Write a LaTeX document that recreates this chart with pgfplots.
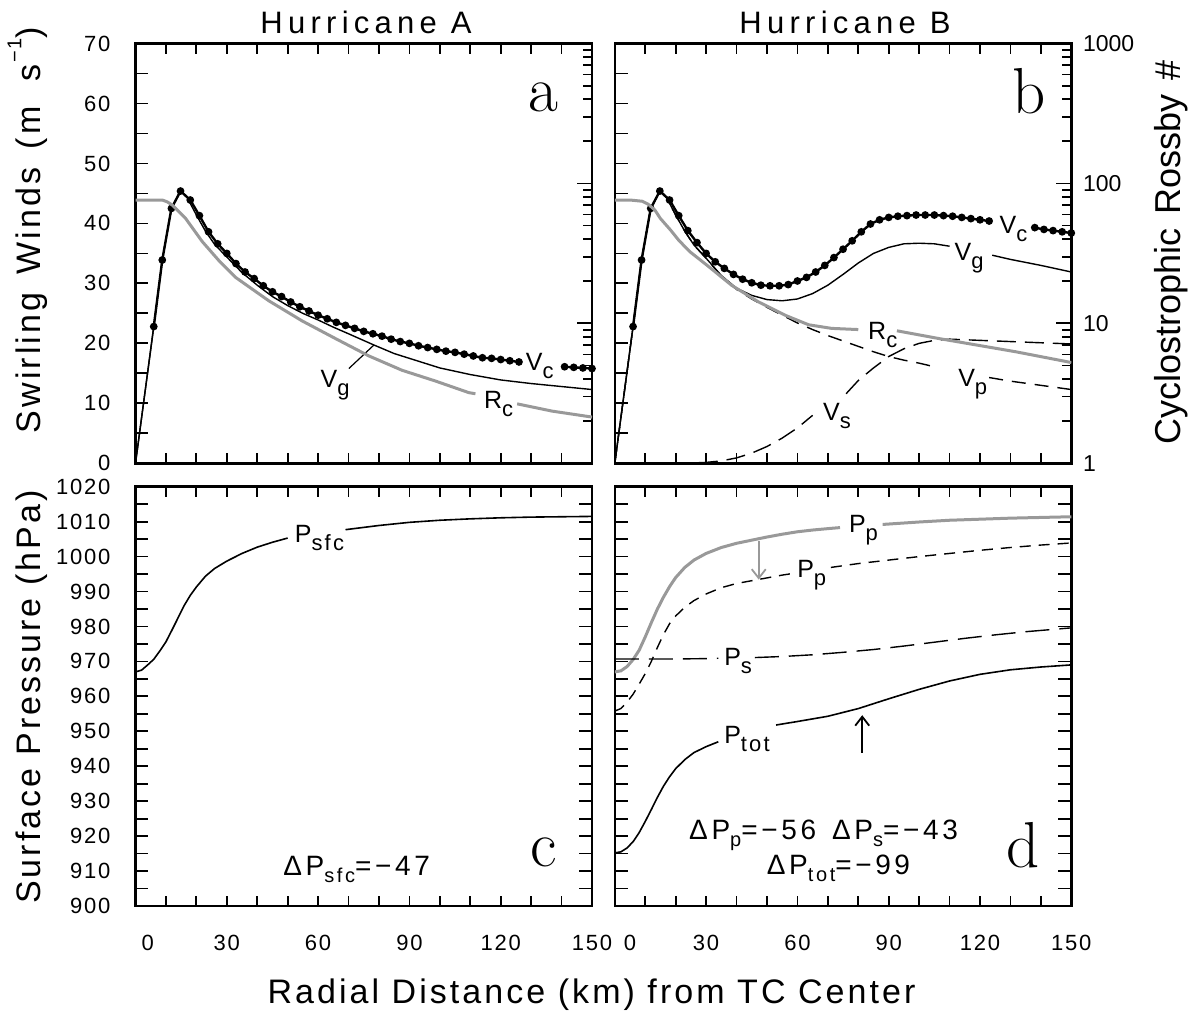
\documentclass[border=0pt]{standalone}
\usepackage{pgfplots}
\pgfplotsset{compat=1.18}
\usepackage{fontspec}
\usetikzlibrary{arrows.meta}
\newfontfamily\tfont[LetterSpace=8]{Liberation Sans}
\newfontfamily\ttfont[LetterSpace=17]{Liberation Sans}
\newfontfamily\lfont[LetterSpace=9]{Liberation Sans}
\newfontfamily\cfont[LetterSpace=10]{Liberation Sans}
\newfontfamily\dfont[LetterSpace=13]{Liberation Sans}
\newfontfamily\afont{Liberation Sans}
\newcommand{\sub}[1]{\raisebox{-8pt}{\fontsize{22}{22}\selectfont #1}}
\newcommand{\subA}[1]{\raisebox{-6.5pt}{\fontsize{20}{20}\selectfont #1}}
\newcommand{\curvf}{\cfont\fontsize{25}{25}\selectfont}
\newcommand{\annf}{\dfont\fontsize{28}{28}\selectfont}
\newcommand{\letf}{\rmfamily\fontsize{65}{65}\selectfont}
\definecolor{rcgray}{gray}{0.6}
\pgfplotsset{
  base/.style={
    scale only axis, width=456.5pt, xmin=0, xmax=150,
    tick align=inside,
    axis line style={line width=2.6pt},
    tick style={line width=1.8pt, black},
    major tick length=10pt, minor tick length=10pt,
    ytick style={/pgfplots/major tick length=13pt, /pgfplots/minor tick length=13pt},
    xtick={0,10,...,150},
    /pgf/number format/assume math mode=true,
    /pgf/number format/set thousands separator={},
    ticklabel style={font=\tfont\fontsize{22}{22}\selectfont},
    yticklabel style={anchor=east, inner sep=0pt, xshift=-25pt},
    xticklabel style={anchor=north, inner sep=0pt, yshift=-29pt},
  },
  logax/.style={
    scale only axis, width=456.5pt, xmin=0, xmax=150,
    ymin=1, ymax=1000,
    axis x line=none, axis y line=right,
    axis line style={line width=2.6pt,-}, y axis line style={-},
    tick align=inside,
    tick style={line width=1.8pt, black},
    major tick length=15pt, minor tick length=9pt,
    ytick={1,10,100,1000},
    minor ytick={2,3,4,5,6,7,8,9,20,30,40,50,60,70,80,90,200,300,400,500,600,700,800,900},
    yticklabel style={anchor=west, inner sep=0pt, xshift=11.5pt, font=\afont\fontsize{23}{23}\selectfont},
  },
  vc/.style={black, line width=2.4pt, mark=*, mark size=2.6pt},
  vg/.style={black, line width=1.4pt},
  rc/.style={rcgray, line width=3pt},
  vp/.style={black, line width=1.4pt, dash pattern=on 14pt off 9pt},
  vs/.style={black, line width=1.4pt, dash pattern=on 19pt off 9pt},
  pp/.style={black, line width=1.4pt, dash pattern=on 11pt off 8pt},
  ps/.style={black, line width=1.4pt, dash pattern=on 24pt off 10pt},
  psol/.style={black, line width=1.6pt},
}
\begin{document}
\begin{tikzpicture}[x=1pt,y=1pt]
\useasboundingbox (0pt,0pt) rectangle (1195pt,-1014pt);

% ---------------- panel a ----------------
\begin{axis}[base, at={(135.5pt,-463.3pt)}, anchor=south west, height=419.8pt,
  ymin=0, ymax=70, ytick={0,10,...,70}, minor ytick={5,15,...,65}, ytick pos=left,
  xticklabels={}]
\addplot[vg] coordinates {(0,0)(6,22.8)};
\addplot[vc] coordinates {(6,22.8)(8.8,33.9)(11.8,42.5)(14.8,45.4)(18,43.9)(21,41.3)(24,38.6)(27,36.6)(30,35.0)(33,33.3)(36,31.9)(39,30.8)(42,29.6)(45,28.6)(48,27.8)(51,26.9)(54,26.1)(57,25.4)(60,24.7)(63,24.1)(66,23.5)(69,23.0)(72,22.5)(75,22.0)(78,21.6)(81,21.2)(84,20.7)(87,20.3)(90,20.0)(93,19.6)(96,19.3)(99,19.0)(102,18.7)(105,18.5)(108,18.2)(111,17.9)(114,17.6)(117,17.5)(120,17.3)(123,17.1)(126,16.9)};
\addplot[vc] coordinates {(141,16.1)(144,16.0)(147,15.9)(150,15.8)};
\addplot[vg] coordinates {(0,0)(6,22.8)(8.8,33.9)(11.8,42.5)(14.8,45.4)(17,44.3)(20,41.4)(23,38.7)(26,36.5)(30,34.4)(35,31.8)(40,29.7)(45,27.8)(50,26.3)(55,25.0)(60,23.9)(65,22.7)(70,21.6)(78,19.8)(85,18.3)(90,17.5)(100,15.9)(110,14.8)(120,13.9)(130,13.3)(140,12.8)(150,12.3)};
\draw[black, line width=1.2pt] (axis cs:70.1,15.8) -- (axis cs:78.3,19.7);
\node[anchor=base west, font=\curvf, inner sep=0pt] at (axis cs:128.2,15.55) {V\sub{c}};
\node[anchor=base west, font=\curvf, inner sep=0pt] at (axis cs:60.8,12.67) {V\sub{g}};
\node[anchor=base west, font=\curvf, inner sep=0pt] at (axis cs:114.5,9.17) {R\sub{c}};
\node[anchor=base west, font=\letf, inner sep=0pt] at (axis cs:129.2,58.6) {a};
\end{axis}
\begin{semilogyaxis}[logax, at={(135.5pt,-463.3pt)}, anchor=south west, height=419.8pt, yticklabels={}]
\addplot[rc] coordinates {(0,76.1)(8.8,76.1)(10.4,73.9)(12,70.3)(16.4,56.5)(21.9,38.5)(27.4,28.1)(32.9,21.3)(43.8,14.5)(54.8,10.4)(65.7,7.79)(76.7,5.85)(87.6,4.62)(98.6,3.87)(109.5,3.20)(111.7,3.14)};
\addplot[rc] coordinates {(125.4,2.66)(136.9,2.36)(150,2.14)};
\end{semilogyaxis}

% ---------------- panel b ----------------
\begin{axis}[base, at={(614.8pt,-463.3pt)}, anchor=south west, height=419.8pt,
  ymin=0, ymax=70, ytick={0,10,...,70}, minor ytick={5,15,...,65}, ytick pos=left,
  xticklabels={}, yticklabels={}]
\addplot[vg] coordinates {(0,0)(6,22.8)};
\addplot[vc] coordinates {(6,22.8)(8.8,33.9)(11.8,42.5)(14.8,45.4)(18,43.9)(21,41.3)(24,38.8)(27,36.8)(30,35.0)(33,33.6)(36,32.5)(39,31.5)(42,30.7)(45,30.1)(48,29.7)(51,29.6)(54,29.6)(57,29.8)(60,30.4)(63,31.0)(66,31.9)(69,33.0)(72,34.3)(75,35.7)(78,37.1)(81,38.6)(84,39.9)(87,40.6)(90,41.0)(93,41.2)(96,41.3)(99,41.4)(102,41.4)(105,41.4)(108,41.3)(111,41.2)(114,41.0)(117,40.8)(120,40.6)(123,40.4)};
\addplot[vc] coordinates {(138,39.3)(141,39.0)(144,38.8)(147,38.6)(150,38.4)};
\addplot[vg] coordinates {(0,0)(6,22.8)(8.8,33.9)(11.8,42.5)(14.8,45.4)(17,44.3)(20,41.4)(23,38.7)(26,36.4)(30,34.2)(35,31.3)(40,29.2)(45,28.0)(50,27.3)(55,27.1)(60,27.4)(65,28.3)(70,29.7)(75,31.5)(80,33.4)(85,35.0)(90,36.0)(95,36.6)(100,36.7)(105,36.6)(110,36.2)};
\addplot[vg] coordinates {(124,34.7)(130,34.0)(140,33.0)(150,31.9)};
\addplot[vp] coordinates {(0,0)(6,22.8)(8.8,33.9)(11.8,42.5)(14.8,45.4)(17,44.3)(20,41.4)(23,38.7)(26,36.4)(30,34.2)(35,31.2)(40,29.0)(45,27.4)(50,26.0)(55,24.7)(60,23.4)(65,22.3)(70,21.3)(75,20.4)(80,19.5)(85,18.6)(90,17.8)(95,17.2)(100,16.7)(105,16.1)};
\addplot[vp] coordinates {(123,14.3)(130,13.7)(140,13.0)(150,12.3)};
\addplot[vs] coordinates {(0,0)(20,0)(25,0.05)(30,0.15)(35,0.4)(40,0.9)(45,1.7)(50,2.8)(55,4.2)(60,5.9)(65,8.0)};
\addplot[vs] coordinates {(76,11.6)(80,13.8)(85,15.9)(90,17.8)(95,19.1)(100,20.0)(105,20.5)(110,20.7)(115,20.6)(120,20.5)(130,20.3)(140,20.1)(150,19.9)};
\node[anchor=base west, font=\curvf, inner sep=0pt] at (axis cs:126.4,38.3) {V\sub{c}};
\node[anchor=base west, font=\curvf, inner sep=0pt] at (axis cs:111.6,33.9) {V\sub{g}};
\node[anchor=base west, font=\curvf, inner sep=0pt] at (axis cs:83.2,20.6) {R\sub{c}};
\node[anchor=base west, font=\curvf, inner sep=0pt] at (axis cs:112.8,12.8) {V\sub{p}};
\node[anchor=base west, font=\curvf, inner sep=0pt] at (axis cs:68.4,7.2) {V\sub{s}};
\node[anchor=base west, font=\letf, inner sep=0pt] at (axis cs:130.5,58.3) {b};
\end{axis}
\begin{semilogyaxis}[logax, at={(614.8pt,-463.3pt)}, anchor=south west, height=419.8pt, yticklabels={1,10,100,1000}]
\addplot[rc] coordinates {(0,76.1)(5,76.1)(9,74.6)(11,71.0)(13.2,64.4)(15,56.1)(18.3,46.5)(21,39.3)(24.6,32.6)(30.9,25.4)(38.4,18.7)(47.3,14.2)(56.1,11.4)(63.7,9.77)(71.2,9.21)(80,9.03)};
\addplot[rc] coordinates {(92.7,8.85)(106.5,7.79)(119.1,6.99)(131.7,6.27)(150,5.25)};
\end{semilogyaxis}

% ---------------- panel c ----------------
\begin{axis}[base, at={(135.5pt,-906pt)}, anchor=south west, height=419.3pt,
  ymin=900, ymax=1020, ytick={900,910,...,1020}, minor ytick={905,915,...,1015},
  xticklabels={,,,30,,,60,,,90,,,120,,,150},
  extra x ticks={4}, extra x tick labels={0}, extra x tick style={major tick length=0pt}]
\addplot[psol] coordinates {(0,967.0)(2,967.5)(4,969.0)(6,970.6)(8,973.0)(10,975.6)(12,979.0)(14,982.5)(16,986.0)(18,988.9)(20,991.3)(23,994.4)(26,996.6)(30,998.7)(35,1000.9)(40,1002.7)(45,1004.1)(50,1005.3)};
\addplot[psol] coordinates {(69,1007.7)(80,1008.9)(90,1009.8)(100,1010.4)(110,1010.8)(120,1011.1)(130,1011.3)(140,1011.4)(150,1011.5)};
\node[anchor=base west, font=\curvf, inner sep=0pt] at (axis cs:52.3,1003.9) {P\sub{sfc}};
\node[anchor=base west, font=\annf, inner sep=0pt] at (axis cs:48.5,908.7) {ΔP\subA{sfc}=−47};
\node[anchor=base west, font=\letf, inner sep=0pt] at (axis cs:129.8,911.2) {c};
\end{axis}

% ---------------- panel d ----------------
\begin{axis}[base, at={(614.8pt,-906pt)}, anchor=south west, height=419.3pt,
  ymin=900, ymax=1020, ytick={900,910,...,1020}, minor ytick={905,915,...,1015},
  yticklabels={},
  xticklabels={,,,30,,,60,,,90,,,120,,,150},
  extra x ticks={5}, extra x tick labels={0}, extra x tick style={major tick length=0pt}]
\addplot[rc] coordinates {(0,967.0)(2,967.3)(4,968.5)(6,970.5)(8,973.2)(10,977.0)(12,981.1)(14,985.0)(16,988.4)(18,991.4)(20,994.0)(23,996.9)(26,999.0)(30,1000.9)(35,1002.6)(40,1003.8)(45,1004.7)(50,1005.6)(55,1006.4)(60,1007.1)(65,1007.6)(70,1008.0)(74,1008.3)};
\addplot[rc] coordinates {(88,1009.2)(100,1009.9)(110,1010.4)(120,1010.7)(130,1011.0)(140,1011.2)(150,1011.4)};
\addplot[pp] coordinates {(0,955.8)(2,956.5)(4,958.3)(6,960.6)(8,963.5)(10,966.5)(12,970.0)(14,974.0)(16,977.7)(18,980.8)(20,983.0)(23,985.5)(26,987.4)(30,989.3)(35,991.1)(40,992.3)(45,993.1)(50,993.9)(55,994.7)(58,995.1)};
\addplot[pp] coordinates {(71,996.9)(80,998.0)(90,999.0)(100,1000.0)(110,1000.9)(120,1001.8)(130,1002.6)(140,1003.3)(150,1003.9)};
\addplot[ps] coordinates {(0,970.7)(10,970.7)(20,970.7)(30,970.8)(34,970.9)};
\addplot[ps] coordinates {(46,971.1)(55,971.4)(65,971.9)(75,972.6)(85,973.4)(95,974.4)(105,975.5)(115,976.6)(125,977.6)(135,978.5)(150,979.6)};
\addplot[psol] coordinates {(0,915.2)(2,915.5)(4,916.6)(6,918.4)(8,921.0)(10,924.2)(12,927.6)(14,931.1)(16,934.3)(18,937.0)(20,939.3)(23,941.9)(26,943.9)(30,945.6)(34,947.0)};
\addplot[psol] coordinates {(53,951.8)(60,952.8)(70,954.3)(80,956.5)(90,959.3)(100,962.0)(110,964.4)(120,966.3)(130,967.6)(140,968.4)(150,969.0)};
\draw[rcgray, line width=1.8pt, -{Straight Barb[length=9pt,width=14pt]}] (axis cs:47.3,1004.4) -- (axis cs:47.3,993.4);
\draw[black, line width=1.8pt, -{Straight Barb[length=9pt,width=14pt]}] (axis cs:81.3,943.9) -- (axis cs:81.3,954.6);
\node[anchor=base west, font=\curvf, inner sep=0pt] at (axis cs:76.9,1006.9) {P\sub{p}};
\node[anchor=base west, font=\curvf, inner sep=0pt] at (axis cs:59.9,994) {P\sub{p}};
\node[anchor=base west, font=\curvf, inner sep=0pt] at (axis cs:35.9,968.7) {P\sub{s}};
\node[anchor=base west, font=\curvf, inner sep=0pt] at (axis cs:35.9,946.4) {P\sub{tot}};
\node[anchor=base, font=\annf, inner sep=0pt] at (axis cs:68.6,919.0) {ΔP\subA{p}=−56\hspace{16pt}ΔP\subA{s}=−43};
\node[anchor=base, font=\annf, inner sep=0pt] at (axis cs:73.5,909.0) {ΔP\subA{tot}=−99};
\node[anchor=base west, font=\letf, inner sep=0pt] at (axis cs:128.6,910.9) {d};
\end{axis}

% ---------------- titles and axis labels ----------------
\node[anchor=base, font=\ttfont\fontsize{31}{31}\selectfont, inner sep=0pt] at (366pt,-33.3pt) {Hurricane A};
\node[anchor=base, font=\ttfont\fontsize{31}{31}\selectfont, inner sep=0pt] at (845pt,-33.3pt) {Hurricane B};
\node[anchor=base, font=\lfont\fontsize{34}{34}\selectfont, inner sep=0pt] at (591.5pt,-1003pt) {Radial Distance (km) from TC Center};
\node[anchor=base, rotate=90, font=\lfont\fontsize{34}{34}\selectfont, inner sep=0pt] at (40pt,-230pt) {Swirling\hspace{6pt} Winds\hspace{6pt} (m\hspace{12pt} s\hspace{2pt}\raisebox{0.55em}{\fontsize{20}{20}\selectfont −1})};
\node[anchor=base, rotate=90, font=\lfont\fontsize{34}{34}\selectfont, inner sep=0pt] at (40pt,-697pt) {Surface Pressure (hPa)};
\node[anchor=base, rotate=90, font=\afont\fontsize{36}{36}\selectfont, inner sep=0pt] at (1180pt,-252pt) {Cyclostrophic\hspace{14pt}Rossby\hspace{14pt}\#};
\end{tikzpicture}
\end{document}
